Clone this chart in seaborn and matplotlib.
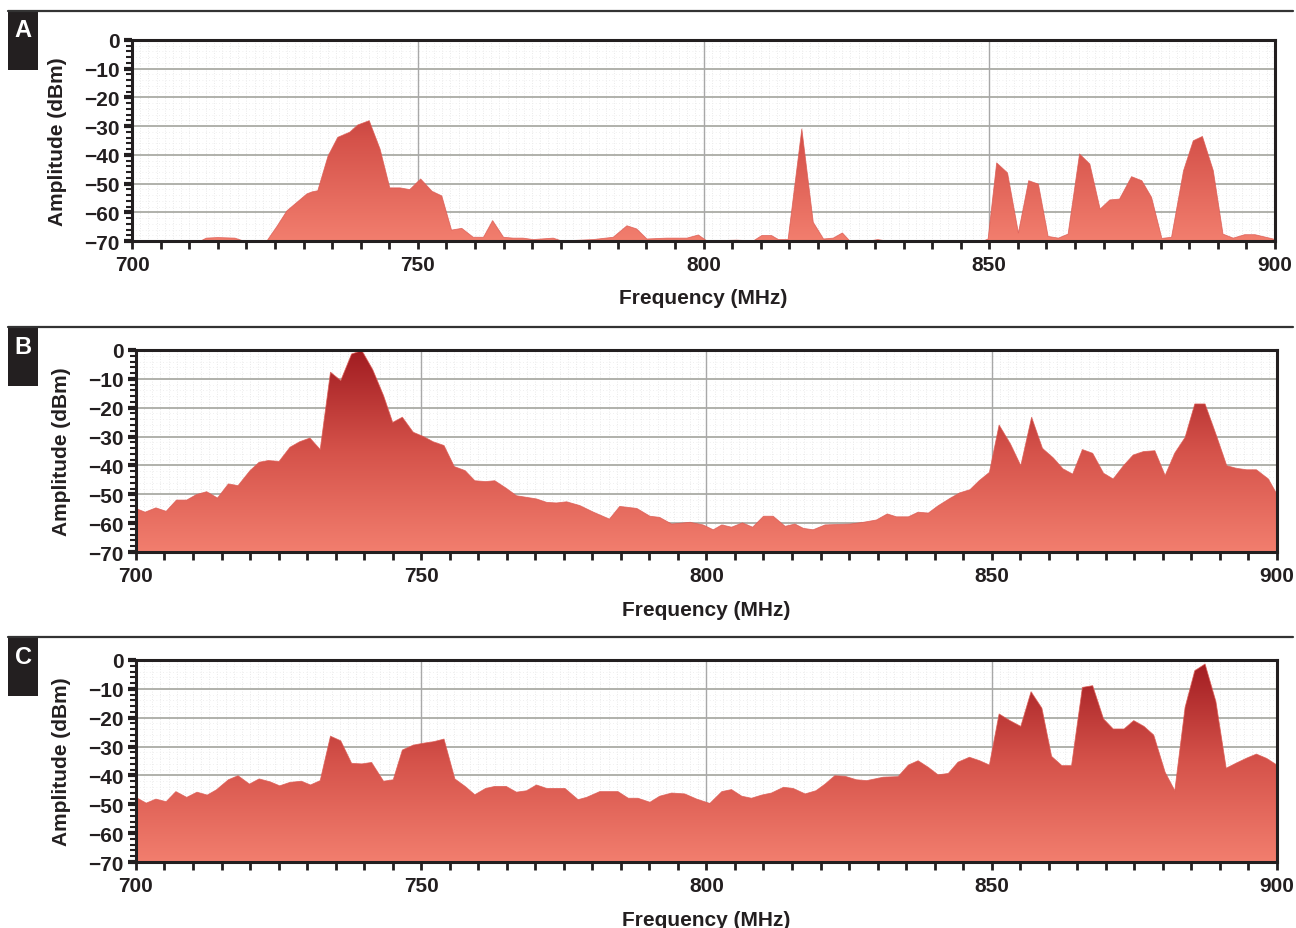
import numpy as np
import matplotlib
matplotlib.use("Agg")
import matplotlib.pyplot as plt
import seaborn as sns
from matplotlib.colors import LinearSegmentedColormap
from matplotlib.lines import Line2D
from matplotlib.patches import Rectangle

# --- spectrum data (MHz, dBm) ---
freq_a = [700, 712, 713, 715, 718, 719.5, 723.6, 725.4, 727.1, 730.6, 731.5, 732.5,
          734.3, 736, 738.1, 739.5, 741.5, 743.4, 745.1, 746.9, 748.6, 750.5, 752.5,
          754.2, 755.9, 757.7, 759.7, 761.5, 763.1, 765, 766.7, 768.4, 770.2, 773.7,
          775.2, 780.7, 784.2, 786.6, 788.3, 790.1, 793.6, 797.1, 799.1, 800.6, 805.8,
          808.7, 810.2, 811.9, 813.1, 814.8, 817.2, 819.2, 821, 822.7, 824.3, 825.6,
          829, 830.5, 832, 849, 849.8, 851.3, 853.2, 855.1, 856.9, 858.6, 860.3, 862.1,
          863.8, 865.8, 867.6, 869.4, 871.1, 872.8, 874.9, 876.7, 878.4, 880.2, 881.9,
          884, 885.7, 887.3, 889.2, 890.9, 892.7, 894.7, 896.5, 899.7, 900]
amp_a = [-70, -70, -69, -68.8, -69, -70, -70, -64.8, -59.5, -53.6, -52.9, -52.5,
         -40.4, -33.9, -32.1, -29.6, -28.1, -38, -51.5, -51.5, -52.1, -48.4, -52.7,
         -54.3, -66.2, -65.6, -68.7, -68.7, -62.9, -68.7, -69, -69, -69.5, -69,
         -70, -69.5, -68.7, -64.7, -65.8, -69.3, -69, -69, -67.9, -70, -69.7,
         -70, -68.1, -68.1, -69.5, -69.5, -31, -63.5, -69.3, -69, -67.2, -70,
         -70, -69.5, -70, -70, -69.3, -42.8, -46.3, -67.2, -49, -50.2, -68.4, -69,
         -67.6, -39.7, -43.2, -58.9, -55.7, -55.4, -47.6, -49, -54.8, -69.1, -68.7,
         -45.5, -35.1, -33.6, -45.5, -67.6, -69, -67.8, -67.8, -69.3, -69.5]

freq_b = [700, 701.6, 703.5, 705.3, 707.1, 708.9, 710.6, 712.4, 714.3, 716.2, 717.9,
          720, 721.6, 723.2, 725.1, 727, 728.7, 730.5, 732.3, 734.1, 735.9, 737.8,
          739.6, 741.5, 743.4, 745, 746.7, 748.6, 750.4, 752.1, 754, 755.8, 757.7,
          759.4, 761.3, 762.9, 764.9, 766.7, 770.2, 772, 773.7, 775.5, 777.8, 780.2,
          783, 784.8, 787.8, 790.1, 791.8, 793.9, 797.1, 799.4, 801.2, 802.7, 804.4,
          806.3, 808.1, 810, 811.7, 813.8, 815.5, 817, 818.7, 820.8, 825.2, 827.5,
          829.8, 831.7, 833.3, 835.4, 837.1, 838.9, 840.6, 842.7, 844.4, 846.2, 847.8,
          849.6, 851.3, 853.3, 855.1, 857, 858.9, 860.8, 862.5, 864.2, 865.9, 867.7,
          869.6, 871.3, 873.1, 874.8, 876.6, 878.6, 880.4, 882.1, 883.9, 885.6, 887.4,
          889.4, 891.2, 892.9, 894.7, 896.4, 898.5, 900]
amp_b = [-54.9, -56.2, -54.7, -55.9, -52, -52, -50.1, -49.1, -51.3, -46.4, -47,
         -41.8, -38.9, -38.3, -38.6, -33.7, -31.8, -30.5, -34.5, -7.7, -10.6, -1.4,
         -0.2, -6.8, -15.8, -25.1, -23.3, -28.5, -30, -31.8, -33.1, -40.4, -41.8,
         -45.3, -45.6, -45.3, -47.9, -50.5, -51.6, -52.8, -53, -52.6, -53.9, -56.2,
         -58.6, -54.2, -54.9, -57.6, -58, -60.3, -59.7, -60.6, -62.3, -60.6, -61.4,
         -59.9, -61.4, -57.6, -57.6, -61.1, -60.3, -61.8, -62.3, -60.6, -60.3, -59.7,
         -58.9, -56.8, -57.8, -57.8, -56.2, -56.5, -54, -51.4, -49.5, -48.4, -45.3,
         -42.4, -26, -32.6, -40.1, -23.3, -34.1, -37.4, -41.2, -43, -34.5, -35.8,
         -42.7, -44.7, -40.1, -36.4, -35.2, -34.9, -43.5, -35.7, -30.3, -18.7, -18.7,
         -29.7, -40.1, -41, -41.5, -41.5, -44.7, -50]

freq_c = [700, 701.8, 703.5, 705.3, 707, 708.9, 710.7, 712.5, 714.1, 716.2, 717.9,
          719.9, 721.6, 723.5, 725.2, 727, 729, 730.6, 732.3, 734.1, 735.9, 737.8,
          739.6, 741.3, 743.4, 745.1, 746.7, 748.6, 750.5, 752.2, 754, 755.9, 757.7,
          759.4, 761.3, 762.9, 764.9, 766.7, 768.5, 770.2, 772, 775.2, 777.5, 779,
          781.3, 784.5, 786.3, 788, 790.1, 791.8, 793.9, 796.2, 798.3, 800.6, 802.7,
          804.4, 806.2, 807.9, 809.7, 811.4, 813.5, 815.2, 817.3, 819.2, 820.8, 822.5,
          824.3, 826.3, 828.1, 831, 833.6, 835.4, 837.1, 838.9, 840.6, 842.4, 844.1,
          846.1, 847.9, 849.6, 851.3, 853.2, 855.1, 856.9, 858.8, 860.5, 862.3, 864,
          865.9, 867.7, 869.6, 871.3, 873.2, 874.9, 876.7, 878.4, 880.4, 882.1, 883.9,
          885.6, 887.4, 889.3, 891.1, 892.9, 894.7, 896.4, 898.2, 900]
amp_c = [-47.6, -49.6, -48.2, -49.1, -45.6, -47.6, -45.8, -46.8, -45, -41.5, -40.1,
         -43, -41.2, -42.2, -43.6, -42.4, -42, -43.3, -41.8, -26.4, -28, -35.8,
         -36, -35.5, -42, -41.5, -31.2, -29.5, -28.8, -28.3, -27.4, -41.2, -43.8,
         -46.7, -44.5, -43.8, -43.8, -45.8, -45.3, -43.3, -44.5, -44.5, -48.4, -47.6,
         -45.6, -45.6, -47.9, -47.9, -49.3, -47.2, -46.1, -46.4, -48.2, -49.7, -45.6,
         -44.9, -47.2, -47.9, -46.8, -46.1, -44.1, -44.5, -46.4, -45.3, -43, -40.1,
         -40.3, -41.5, -41.8, -40.6, -40.4, -36.4, -34.9, -37.2, -39.8, -39.3, -35.4,
         -33.7, -34.9, -36.4, -18.7, -21, -23, -11, -16.7, -33.4, -36.6, -36.6,
         -9.5, -8.9, -20.4, -23.9, -23.9, -21, -23, -26, -38.9, -45.3, -16.4,
         -3.7, -1.4, -14.4, -37.5, -35.7, -34, -32.6, -34.1, -36.4]

panel_letters = ["A", "B", "C"]
x_labels = [700, 750, 800, 850, 900]
y_labels = [-70, -60, -50, -40, -30, -20, -10, 0]

# --- style ---
sns.set_style("white")
plt.rcParams["font.family"] = ["Liberation Sans", "DejaVu Sans"]
plt.rcParams["font.weight"] = "bold"
plt.rcParams["axes.labelweight"] = "bold"

TEXT = "#231f20"
fill_cmap = LinearSegmentedColormap.from_list(
    "spec", ["#f27e6e", "#d5524a", "#a01b20"])

fig = plt.figure(figsize=(12.96, 9.29), dpi=100)

# axes rectangles (left, bottom, width, height) in figure fractions
rects = [
    (0.1019, 0.7395, 0.8819, 0.2164),
    (0.1049, 0.4047, 0.8804, 0.2175),
    (0.1049, 0.0710, 0.8804, 0.2175),
]
sep_y = [0.9871, 0.6469, 0.3132]

datasets = [(freq_a, amp_a), (freq_b, amp_b), (freq_c, amp_c)]


def draw_panel(ax, freq, amp):
    ax.set_facecolor("white")

    # fine dotted grid
    for xv in np.linspace(700, 900, 141):
        ax.axvline(xv, color="#e3e3e3", lw=0.6, ls=(0, (1, 2)), zorder=0)
    for yv in np.arange(-70, 0, 2):
        ax.axhline(yv, color="#ebebeb", lw=0.6, ls=(0, (1, 3)), zorder=0)
    # major grid
    for yv in y_labels[1:-1]:
        ax.axhline(yv, color="#b0b1ab", lw=1.4, zorder=0.5)
    for xv in x_labels[1:-1]:
        ax.axvline(xv, color="#a8a8a8", lw=1.0, zorder=0.5)

    # gradient filled spectrum
    poly = ax.fill_between(freq, amp, -70, facecolor="none", edgecolor="none")
    grad = np.linspace(0, 1, 256).reshape(-1, 1)
    img = ax.imshow(grad, extent=[700, 900, -70, 0], origin="lower",
                    aspect="auto", cmap=fill_cmap, zorder=2)
    img.set_clip_path(poly.get_paths()[0], transform=ax.transData)
    sns.lineplot(x=freq, y=amp, ax=ax, color="#dc5a52", lw=0.6, alpha=0.8,
                 estimator=None, sort=False, zorder=3)

    ax.set_xlim(700, 900)
    ax.set_ylim(-70, 0)

    ax.set_xticks(x_labels)
    ax.set_xticks(np.arange(700, 901, 5), minor=True)
    ax.set_yticks(y_labels)
    ax.set_yticks(np.arange(-70, 1, 2), minor=True)
    ax.set_yticklabels([str(v).replace("-", "\u2212") for v in y_labels])

    ax.tick_params(axis="x", which="both", direction="out", length=6,
                   width=2, color=TEXT, labelsize=15, pad=4, labelcolor=TEXT,
                   bottom=True)
    ax.tick_params(axis="y", which="major", direction="out", length=6,
                   width=3, color=TEXT, labelsize=15, pad=3, labelcolor=TEXT,
                   left=True)
    ax.tick_params(axis="y", which="minor", direction="out", length=4,
                   width=1.5, color=TEXT, left=True)
    for lab in ax.get_xticklabels() + ax.get_yticklabels():
        lab.set_fontweight("bold")

    for sp in ax.spines.values():
        sp.set_visible(True)
        sp.set_color(TEXT)
        sp.set_linewidth(2.2)
        sp.set_zorder(5)

    ax.set_xlabel("Frequency (MHz)", fontsize=15, color=TEXT)
    ax.set_ylabel("Amplitude (dBm)", fontsize=15, color=TEXT)
    ax.xaxis.set_label_coords(0.5, -0.235)
    ax.yaxis.set_label_coords(-0.057, 0.5)


for rect, (freq, amp), letter, sy in zip(rects, datasets, panel_letters, sep_y):
    ax = fig.add_axes(rect)
    draw_panel(ax, freq, amp)

    # separator rule and panel letter box
    fig.add_artist(Line2D([0.006, 0.998], [sy, sy], transform=fig.transFigure,
                          color="#333333", lw=1.6))
    box_h = 59 / 929
    fig.add_artist(Rectangle((8 / 1296, sy - box_h), 30 / 1296, box_h,
                             transform=fig.transFigure, facecolor="#231f20",
                             edgecolor="none"))
    fig.text(23 / 1296, sy - 19 / 929, letter, color="white", fontsize=17,
             fontweight="bold", ha="center", va="center")

fig.savefig("out.png", dpi=100)
